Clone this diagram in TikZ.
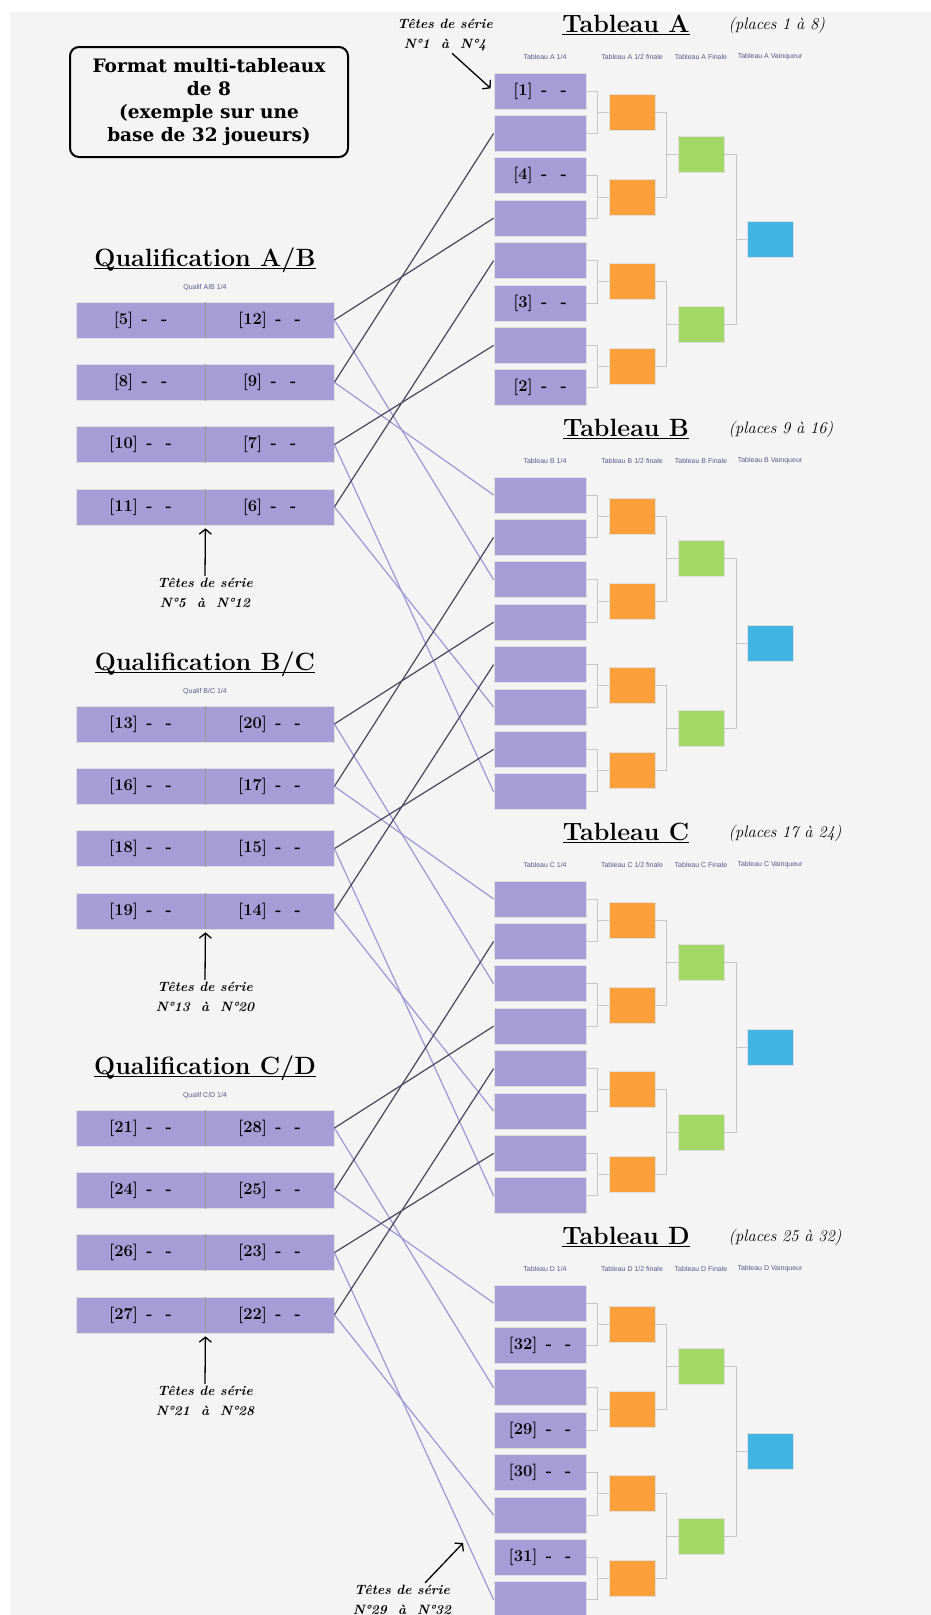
\documentclass[tikz,border=0pt]{standalone}
\usepackage{fontspec}
\newfontfamily\cadrefont{DejaVu Serif}
\newfontfamily\petitfont{Liberation Sans}
\usetikzlibrary{arrows.meta}
\definecolor{fond}{RGB}{244,244,244}
\definecolor{lilas}{RGB}{166,157,214}
\definecolor{orangeq}{RGB}{253,159,58}
\definecolor{vertq}{RGB}{164,216,102}
\definecolor{bleuq}{RGB}{66,180,228}
\definecolor{trait}{RGB}{72,70,92}
\definecolor{traitclair}{RGB}{157,151,214}
\definecolor{entetecol}{RGB}{88,86,140}
\newcommand\joueur[1]{[#1]\hspace{.5em}-\hspace{.8em}-}
\newcommand\souligne[1]{\setbox0=\hbox{#1}\rlap{\copy0}\rule[-3pt]{\wd0}{1.4pt}}

\begin{document}
\begin{tikzpicture}[x=1pt, y=-1pt,
  numero/.style={font=\bfseries\fontsize{16.5}{16.5}\selectfont},
  case/.style={numero, draw=black!12, line width=0.8pt, fill=lilas, minimum width=92pt, minimum height=36pt, inner sep=0pt},
  demi/.style={case, fill=orangeq, minimum width=46pt},
  finale/.style={demi, fill=vertq},
  vainqueur/.style={demi, fill=bleuq},
  qualif/.style={case, minimum width=129pt},
  crochet/.style={draw=black!22, line width=0.8pt},
  gagnant/.style={draw=trait, line width=1.2pt},
  perdant/.style={draw=traitclair, line width=1.2pt},
  titre/.style={font=\bfseries\fontsize{25}{25}\selectfont},
  places/.style={anchor=west, font=\itshape\fontsize{16.5}{16.5}\selectfont},
  entete/.style={text=entetecol, font=\petitfont\fontsize{7}{7}\selectfont},
  tetes/.style={align=center, inner sep=2pt, font=\bfseries\itshape\fontsize{13.5}{20}\selectfont},
  fleche/.style={-{Straight Barb[length=5pt, width=12pt]}, line width=1.3pt}
  ]
  \useasboundingbox (0,0) rectangle (931,1615);
  \fill[fond] (10,12) rectangle (931,1615);
  \node[draw, line width=2pt, rounded corners=9pt, minimum width=278pt, minimum height=110pt, align=center,
    font=\cadrefont\bfseries\fontsize{18.5}{23}\selectfont] (format) at (209,102)
    {Format multi-tableaux\\de 8\\(exemple sur une\\base de 32 joueurs)};
  \foreach \tab/\p [count=\k from 0] in {A/1 à 8, B/9 à 16, C/17 à 24, D/25 à 32} {
    \node[titre] (titre\tab) at (626,{25+404*\k}) {\souligne{Tableau \tab}};
    \node[places] (places\tab) at (725,{25+404*\k}) {(places \p)};
    \node[entete] (quart\tab) at (545,{57+404*\k}) {Tableau \tab{} 1/4};
    \node[entete] (demi\tab) at (632,{57+404*\k}) {Tableau \tab{} 1/2 finale};
    \node[entete] (finale\tab) at (701,{57+404*\k}) {Tableau \tab{} Finale};
    \node[entete] (vainqueur\tab) at (770,{57+404*\k}) {Tableau \tab{} Vainqueur};
    \foreach \i in {1,...,8}
      \node[case] (\tab-\i) at (540,{91+404*\k+42.4*(\i-1)}) {};
    \foreach \j in {1,...,4}
      \node[demi] (\tab-d\j) at (632,{112.2+404*\k+84.8*(\j-1)}) {};
    \foreach \m in {1,2}
      \node[finale] (\tab-f\m) at (701,{154.6+404*\k+169.6*(\m-1)}) {};
    \node[vainqueur] (\tab-v) at (770.5,{239.4+404*\k}) {};
    \foreach \j in {1,...,4} {
      \pgfmathtruncatemacro\ia{2*\j-1}
      \pgfmathtruncatemacro\ib{2*\j}
      \draw[crochet] (\tab-\ia.east) -- ++(11,0) |- (\tab-d\j.west);
      \draw[crochet] (\tab-\ib.east) -- ++(11,0) |- (\tab-d\j.west);
    }
    \foreach \m in {1,2} {
      \pgfmathtruncatemacro\ia{2*\m-1}
      \pgfmathtruncatemacro\ib{2*\m}
      \draw[crochet] (\tab-d\ia.east) -- ++(11,0) |- (\tab-f\m.west);
      \draw[crochet] (\tab-d\ib.east) -- ++(11,0) |- (\tab-f\m.west);
    }
    \draw[crochet] (\tab-f1.east) -- ++(12,0) |- (\tab-v.west);
    \draw[crochet] (\tab-f2.east) -- ++(12,0) |- (\tab-v.west);
  }
  \foreach \i/\tete in {1/1, 3/4, 6/3, 8/2}
    \node[numero] (A-n\i) at (A-\i) {\joueur{\tete}};
  \foreach \i/\tete in {2/32, 4/29, 5/30, 7/31}
    \node[numero] (D-n\i) at (D-\i) {\joueur{\tete}};
  \foreach \haut/\bas [count=\k from 0] in {A/B, B/C, C/D} {
    \node[titre] (qtitre\k) at (205,{260+404*\k}) {\souligne{Qualification \haut/\bas}};
    \node[entete] (qentete\k) at (205,{288+404*\k}) {Qualif \haut/\bas{} 1/4};
    \foreach \g/\dr/\win/\los [count=\r from 0] in {0/7/4/3, 3/4/2/1, 5/2/7/8, 6/1/5/6} {
      \pgfmathtruncatemacro\ng{5+8*\k+\g}
      \pgfmathtruncatemacro\nd{5+8*\k+\dr}
      \node[qualif] (Q\k g\r) at (140.5,{320+404*\k+62.3*\r}) {\joueur{\ng}};
      \node[qualif] (Q\k d\r) at (269.5,{320+404*\k+62.3*\r}) {\joueur{\nd}};
      \draw[black!40] (Q\k g\r.north east) -- (Q\k g\r.south east);
      \draw[gagnant] (Q\k d\r.east) -- (\haut-\win.west);
      \draw[perdant] (Q\k d\r.east) -- (\bas-\los.west);
    }
    \pgfmathtruncatemacro\premier{5+8*\k}
    \pgfmathtruncatemacro\dernier{12+8*\k}
    \node[tetes] (tetes\k) at (205,{593+404*\k}) {Têtes de série\\N°\premier~ à ~N°\dernier};
    \draw[fleche] (tetes\k.north) -- ([yshift=-3pt]Q\k g3.south east);
  }
  \node[tetes] (tetesA) at (445,35) {Têtes de série\\N°1~ à ~N°4};
  \draw[fleche, shorten >=4pt] ([xshift=7pt]tetesA.south) -- (A-1.west);
  \node[tetes] (tetesD) at (402,1600) {Têtes de série\\N°29~ à ~N°32};
  \coordinate (pointeD) at (463,1543);
  \draw[fleche] ([xshift=23pt]tetesD.north) -- (pointeD);
\end{tikzpicture}
\end{document}
